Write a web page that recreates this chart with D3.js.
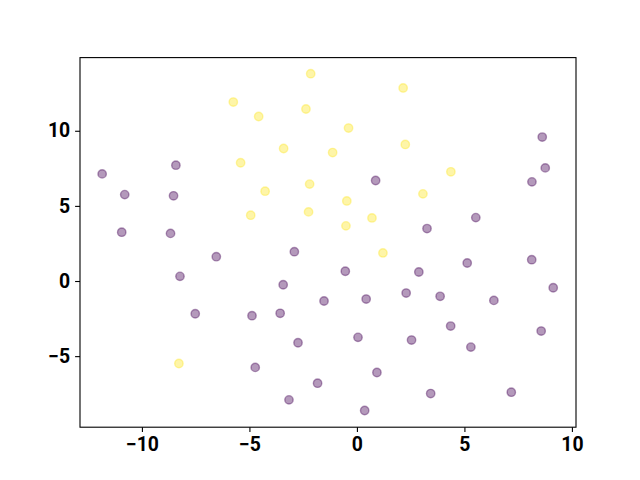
<!DOCTYPE html>
<html>
<head>
<meta charset="utf-8">
<script src="https://cdn.jsdelivr.net/npm/d3@7"></script>
<style>
  body { margin: 0; background: #fff; }
  svg text { font-family: Roboto, "Liberation Sans", Arial, sans-serif; font-weight: bold; }
</style>
</head>
<body>
<div id="chart"></div>
<script>
// class 0 points (purple)
var purpleX = [-11.85, -10.80, -8.42, -8.53, -10.94, -8.67, -6.54, -2.91, -8.23, -3.43,
               -7.52, -4.88, -3.57, -2.74, -4.73, -3.16, -1.83, -1.53, -0.54, 0.43,
               0.05, 0.93, 0.36, 2.29, 2.54, 2.88, 3.87, 3.43, 4.36, 5.13,
               5.30, 6.37, 7.18, 8.13, 8.57, 9.13, 8.62, 8.76, 8.14, 0.87,
               5.53, 3.26];
var purpleY = [7.13, 5.75, 7.71, 5.67, 3.25, 3.17, 1.62, 1.95, 0.31, -0.25,
               -2.18, -2.31, -2.15, -4.11, -5.75, -7.91, -6.80, -1.33, 0.65, -1.20,
               -3.75, -6.09, -8.62, -0.80, -3.93, 0.60, -1.02, -7.49, -3.00, 1.20,
               -4.40, -1.29, -7.40, 1.42, -3.33, -0.45, 9.58, 7.53, 6.60, 6.69,
               4.22, 3.49];
// class 1 points (yellow)
var yellowX = [-2.15, -5.75, -4.57, -2.37, 2.15, -0.39, -3.41, -1.13, 2.25, -5.41,
               4.37, -4.27, -2.20, 3.07, -0.47, -4.94, -2.25, 0.70, -0.51, 1.21,
               -8.28];
var yellowY = [13.80, 11.91, 10.95, 11.45, 12.85, 10.18, 8.82, 8.55, 9.09, 7.87,
               7.27, 5.98, 6.45, 5.80, 5.33, 4.38, 4.60, 4.20, 3.67, 1.87,
               -5.49];
var xTicks = [-10, -5, 0, 5, 10];
var yTicks = [-5, 0, 5, 10];

var width = 640, height = 480;
var margin = { top: 57.6, right: 64, bottom: 52.8, left: 80 };
var plotW = width - margin.left - margin.right;
var plotH = height - margin.top - margin.bottom;

var svg = d3.select("#chart")
    .append("svg")
    .attr("width", width)
    .attr("height", height);

var g = svg.append("g")
    .attr("transform", `translate(${margin.left},${margin.top})`);

var x = d3.scaleLinear().domain([-12.88, 10.19]).range([0, plotW]);
var y = d3.scaleLinear().domain([-9.73, 14.87]).range([plotH, 0]);

var points = [];
purpleX.forEach((v, i) => points.push({ x: v, y: purpleY[i], c: "#440154" }));
yellowX.forEach((v, i) => points.push({ x: v, y: yellowY[i], c: "#fde725" }));

g.selectAll("circle")
    .data(points)
    .enter()
    .append("circle")
    .attr("cx", d => x(d.x))
    .attr("cy", d => y(d.y))
    .attr("r", 4.2)
    .style("fill", d => d.c)
    .style("fill-opacity", 0.4)
    .style("stroke", d => d.c)
    .style("stroke-opacity", 0.4)
    .style("stroke-width", 1.4);

var xAxis = g.append("g")
    .attr("transform", `translate(0,${plotH})`)
    .call(d3.axisBottom(x).tickValues(xTicks).tickSize(4.9).tickPadding(4.9));
var yAxis = g.append("g")
    .call(d3.axisLeft(y).tickValues(yTicks).tickSize(4.9).tickPadding(4.9));

[xAxis, yAxis].forEach(a => {
    a.select(".domain").remove();
    a.selectAll("line").attr("stroke", "#000").attr("stroke-width", 1.1);
    a.selectAll("text").attr("fill", "#000").style("font-size", "19.4px");
});

// spines
g.append("rect")
    .attr("width", plotW)
    .attr("height", plotH)
    .attr("fill", "none")
    .attr("stroke", "#000")
    .attr("stroke-width", 1.1);
</script>
</body>
</html>
